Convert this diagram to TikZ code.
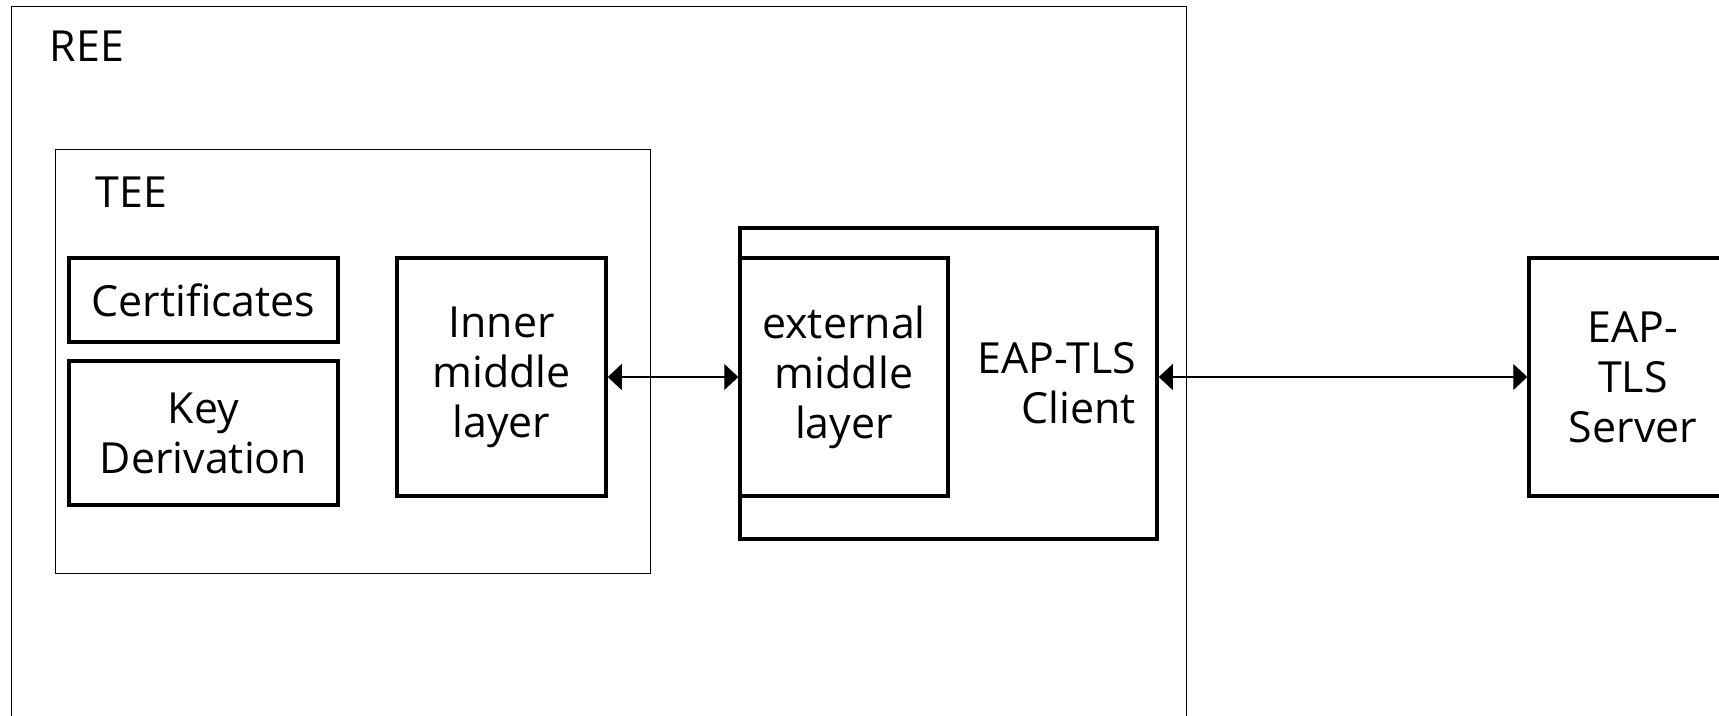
\documentclass[tikz,border=0pt]{standalone}
\usepackage{fontspec}
\setmainfont{Open Sans}
\usetikzlibrary{positioning,arrows.meta}

\tikzset{
	blk/.style={draw, line width=1pt, align=center, inner sep=0pt},
	zone/.style={draw, line width=0.4pt, inner sep=0pt},
	tag/.style={anchor=west, inner sep=0pt},
	link/.style={{Triangle[length=1.4mm,width=2.6mm]}-{Triangle[length=1.4mm,width=2.6mm]},
		line width=0.4pt},
}

\begin{document}
\begin{tikzpicture}[x=0.1mm, y=-0.1mm, font=\fontsize{12.2}{14.2}\selectfont]
		\clip (0,0) rectangle (1719,715);
		% outer zones
		\node[zone, anchor=north west, minimum width=117.5mm, minimum height=90mm] (ree) at (11,5.5) {};
		\node[tag] (reelabel) at (49,46) {REE};
		\node[zone, anchor=north west, minimum width=59.5mm, minimum height=42.4mm] (tee) at (55,149) {};
		\node[tag] (teelabel) at (95,192) {TEE};
		% blocks inside the TEE
		\node[blk, minimum width=26.9mm, minimum height=8.4mm] (cert) at (203.5,300) {Certificates};
		\node[blk, minimum width=26.9mm, minimum height=14.4mm] (keyder) at (203.5,433) {Key\\Derivation};
		\node[blk, minimum width=20.9mm, minimum height=23.8mm] (inner) at (501.5,377) {Inner\\middle\\layer};
		% client side
		\node[blk, minimum width=41.7mm, minimum height=31.1mm] (client) at (948.5,383.5) {};
		\node[blk, minimum width=20.8mm, minimum height=23.8mm] (external) at (844,377) {external\\middle\\layer};
		\node[anchor=east, align=right, inner sep=0pt] (clientlabel) at ([xshift=-2.2mm]client.east) {EAP-TLS\\Client};
		% server
		\node[blk, minimum width=20.8mm, minimum height=23.8mm] (server) at (1633,377) {EAP-\\TLS\\Server};
		% links
		\draw[link] (inner.east) -- (external.west);
		\draw[link] (server.west -| client.east) -- (server.west);
	\end{tikzpicture}
\end{document}
